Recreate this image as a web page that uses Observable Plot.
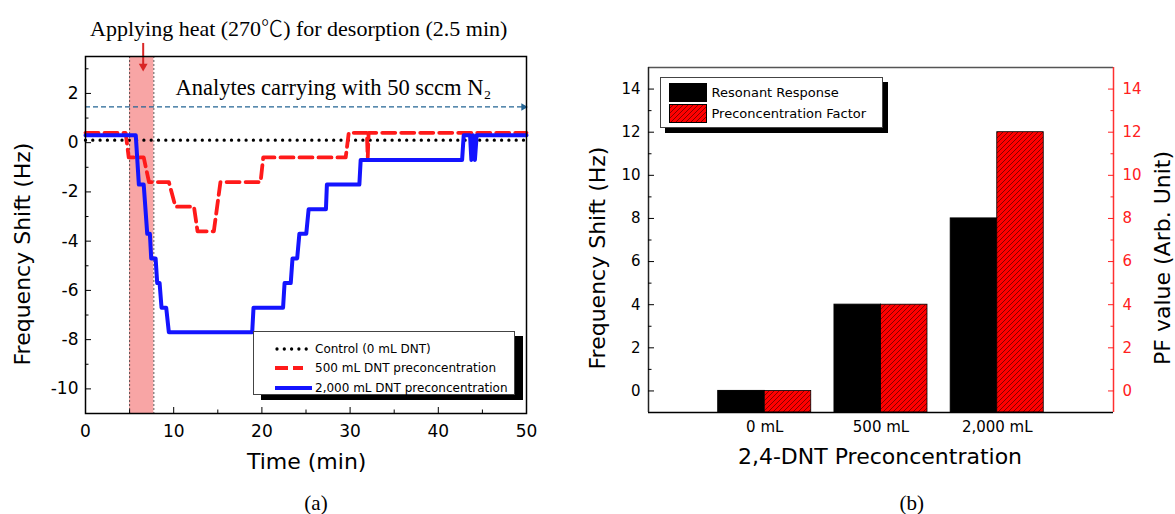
<!DOCTYPE html>
<html><head><meta charset="utf-8">
<script src="https://cdn.jsdelivr.net/npm/d3@7"></script>
<script src="https://cdn.jsdelivr.net/npm/@observablehq/plot@0.6"></script>
<style>
body{margin:0;background:#fff;}
#wrap{position:relative;width:1175px;height:514px;overflow:hidden;font-family:"DejaVu Sans",sans-serif;color:#000;}
#wrap > div.plot{position:absolute;top:0;}
.lbl{position:absolute;white-space:nowrap;transform:translate(-50%,-50%);line-height:1;}
.rot{transform:translate(-50%,-50%) rotate(-90deg);}
.serif{font-family:"Liberation Serif","Times New Roman",serif;}
.cjk{font-family:"Noto Sans CJK KR","Noto Sans CJK JP",sans-serif;font-weight:300;}
.legend{position:absolute;background:#fff;border:1px solid #444;box-sizing:border-box;}
.legend .row{position:absolute;white-space:nowrap;line-height:1;}
</style></head><body><div id="wrap"></div>
<script>
// ---------- Panel (a) data ----------
const controlTime  = [0, 50];
const controlShift = [0.1, 0.1];
const dnt500Time  = [0, 4.55, 4.9, 6.6, 7.2, 9.45, 10.2, 12.3, 12.7, 14.55, 15.3, 19.85, 20.15, 29.5, 29.85, 31.9, 32.0, 32.1, 50];
const dnt500Shift = [0.4, 0.4, -0.6, -0.6, -1.6, -1.6, -2.6, -2.6, -3.6, -3.6, -1.6, -1.6, -0.6, -0.6, 0.4, 0.4, -0.6, 0.4, 0.4];
const dnt2000Time  = [0, 5.7, 6.05, 6.6, 7.0, 7.3, 7.45, 7.95, 8.13, 8.4, 8.62, 9.15, 9.45, 18.9, 19.05, 22.4, 22.57, 23.27, 23.47, 24.0, 24.25, 25.03, 25.3, 27.26, 27.37, 31.05, 31.2, 42.7, 42.88, 43.6, 43.75, 43.95, 44.15, 44.35, 50];
const dnt2000Shift = [0.3, 0.3, -1.7, -1.7, -3.7, -3.7, -4.7, -4.7, -5.7, -5.7, -6.7, -6.7, -7.7, -7.7, -6.7, -6.7, -5.7, -5.7, -4.7, -4.7, -3.7, -3.7, -2.7, -2.7, -1.7, -1.7, -0.7, -0.7, 0.3, 0.3, -0.7, 0.3, -0.7, 0.3, 0.3];
const heatStart = 5, heatEnd = 7.75, heatArrowTime = 6.54;
const carrierLevel = 1.45;
const xTicksA = [0, 10, 20, 30, 40, 50];
const yTicksA = [-10, -8, -6, -4, -2, 0, 2];
const seriesNames = ["Control (0 mL DNT)", "500 mL DNT preconcentration", "2,000 mL DNT preconcentration"];

// ---------- Panel (b) data ----------
const categories = ["0 mL", "500 mL", "2,000 mL"];
const resonantResponse = [0, 4, 8];
const preconcentrationFactor = [0, 4, 12];
const yTicksB = [0, 2, 4, 6, 8, 10, 12, 14];
const legendNamesB = ["Resonant Response", "Preconcentration Factor"];

const FONT = "DejaVu Sans";
const SERIF = "Liberation Serif";
const hyphen = d => String(d);
const pts = (t, v) => t.map((x, i) => ({t: x, v: v[i]}));
const wrap = document.getElementById("wrap");

// ---------- Panel (a) ----------
const plotA = Plot.plot({
  width: 560, height: 514,
  marginLeft: 85, marginRight: 34, marginTop: 56, marginBottom: 101,
  style: {fontFamily: FONT, fontSize: "17px", color: "#000", background: "transparent", overflow: "visible"},
  x: {domain: [0, 50]},
  y: {domain: [-11, 3.5]},
  marks: [
    Plot.rect([{a: heatStart, b: heatEnd}], {x1: "a", x2: "b", fill: "#f8a5a5"}),
    Plot.ruleX([heatStart, heatEnd], {stroke: "#333", strokeWidth: 0.8, strokeDasharray: "2,2"}),
    Plot.ruleY([carrierLevel], {stroke: "#236494", strokeWidth: 1.3, strokeDasharray: "5,3"}),
    Plot.dot([{t: 50, v: carrierLevel}], {x: "t", y: "v", symbol: "triangle2", rotate: 90, r: 3.6, fill: "#236494", stroke: null, dx: -3}),
    Plot.link([{t: heatArrowTime, a: 4.05, b: 3.1}], {x1: "t", x2: "t", y1: "a", y2: "b", stroke: "#d92626", strokeWidth: 2}),
    Plot.dot([{t: heatArrowTime, v: 3.1}], {x: "t", y: "v", symbol: "triangle2", rotate: 180, r: 4.2, fill: "#d92626", stroke: null}),
    Plot.text([{t: 28.1, v: 2.23, s: "Analytes carrying with 50 sccm N\u2082"}], {x: "t", y: "v", text: "s", fontFamily: SERIF, fontSize: 22.5, fill: "#000"}),
    Plot.line(pts(controlTime, controlShift), {x: "t", y: "v", stroke: "#000", strokeWidth: 3.3, strokeDasharray: "0,7.3", strokeLinecap: "round"}),
    Plot.line(pts(dnt500Time, dnt500Shift), {x: "t", y: "v", stroke: "#ff1a1a", strokeWidth: 3.8, strokeDasharray: "13,6"}),
    Plot.line(pts(dnt2000Time, dnt2000Shift), {x: "t", y: "v", stroke: "#1414ff", strokeWidth: 4}),
    Plot.frame({stroke: "#000", strokeWidth: 1.5}),
    Plot.axisX({ticks: xTicksA, tickSize: -6, tickPadding: 17, label: null, fontSize: 17, tickFormat: hyphen}),
    Plot.axisX({ticks: [5, 15, 25, 35, 45], tickSize: -3.5, tickFormat: () => "", label: null}),
    Plot.axisY({ticks: yTicksA, tickSize: -6, tickPadding: 13, label: null, fontSize: 17, tickFormat: hyphen}),
    Plot.axisY({ticks: [-9, -7, -5, -3, -1, 1, 3], tickSize: -3.5, tickFormat: () => "", label: null})
  ]
});
const divA = document.createElement("div"); divA.className = "plot"; divA.style.left = "0px";
divA.appendChild(plotA); wrap.appendChild(divA);

// ---------- Panel (b) ----------
const barData = categories.map((c, i) => ({cat: c, i: i + 1, rr: resonantResponse[i], pf: preconcentrationFactor[i]}));
const plotB = Plot.plot({
  width: 615, height: 514,
  marginLeft: 88, marginRight: 62, marginTop: 67, marginBottom: 102,
  style: {fontFamily: FONT, fontSize: "15px", color: "#000", background: "transparent", overflow: "visible"},
  x: {domain: [0, categories.length + 1]},
  y: {domain: [-1, 15]},
  marks: [
    Plot.rect(barData, {x1: d => d.i - 0.4, x2: "i", y1: -1, y2: "rr", fill: "#000", stroke: "#000", strokeWidth: 1}),
    Plot.rect(barData, {x1: "i", x2: d => d.i + 0.4, y1: -1, y2: "pf", fill: "url(#hatchRed)", stroke: "#000", strokeWidth: 0.8}),
    Plot.ruleY([15], {stroke: "#555", strokeWidth: 1.5}),
    Plot.ruleY([-1], {stroke: "#000", strokeWidth: 1.5}),
    Plot.ruleX([0], {stroke: "#222", strokeWidth: 1.5}),
    Plot.ruleX([categories.length + 1], {stroke: "#ff3030", strokeWidth: 1.5}),
    Plot.axisX({ticks: [1, 2, 3], tickFormat: i => categories[i - 1], tickSize: 0, tickPadding: 9, label: null, fontSize: 15}),
    Plot.axisY({anchor: "left", ticks: yTicksB, tickSize: -6, tickPadding: 14, label: null, fontSize: 15, tickFormat: hyphen}),
    Plot.axisY({anchor: "left", ticks: [1, 3, 5, 7, 9, 11, 13], tickSize: -3.5, tickFormat: () => "", label: null}),
    Plot.axisY({anchor: "right", ticks: yTicksB, tickSize: -6, tickPadding: 15, label: null, fontSize: 15, color: "#ff2020", tickFormat: hyphen}),
    Plot.axisY({anchor: "right", ticks: [1, 3, 5, 7, 9, 11, 13], tickSize: -3.5, tickFormat: () => "", label: null, color: "#ff2020"})
  ]
});
// hatch pattern
const defs = d3.select(plotB).insert("defs", ":first-child");
const pat = defs.append("pattern").attr("id", "hatchRed").attr("patternUnits", "userSpaceOnUse").attr("width", 5).attr("height", 5);
pat.append("rect").attr("width", 5).attr("height", 5).attr("fill", "#ff0000");
pat.append("path").attr("d", "M-1,1 l2,-2 M0,5 l5,-5 M4,6 l2,-2").attr("stroke", "#300").attr("stroke-width", 0.6);
const divB = document.createElement("div"); divB.className = "plot"; divB.style.left = "560px";
divB.appendChild(plotB); wrap.appendChild(divB);

// ---------- Text ----------
function label(text, x, y, size, opts = {}) {
  const d = document.createElement("div");
  d.className = "lbl" + (opts.rot ? " rot" : "") + (opts.serif ? " serif" : "");
  d.style.left = x + "px"; d.style.top = y + "px"; d.style.fontSize = size + "px";
  if (opts.html) d.innerHTML = text; else d.textContent = text;
  wrap.appendChild(d); return d;
}
label('Applying heat (270<span class="cjk">\u2103</span>) for desorption (2.5 min)', 298.7, 26.5, 22, {serif: true, html: true});
label("Frequency Shift (Hz)", 23, 254, 22, {rot: true});
label("Time (min)", 306.7, 461.7, 22);
label("(a)", 316, 503, 21, {serif: true});
label("Frequency Shift (Hz)", 597.5, 258, 22, {rot: true});
label("PF value (Arb. Unit)", 1163, 258, 22, {rot: true});
label("2,4-DNT Preconcentration", 880, 457.3, 22);
label("(b)", 911.7, 503, 21, {serif: true});

// ---------- Legend (a) ----------
const legA = document.createElement("div");
legA.className = "legend";
Object.assign(legA.style, {left: "253px", top: "331px", width: "262px", height: "64px", boxShadow: "8px 5px 0 #000"});
const samplesA = [
  '<line x1="2" y1="5" x2="33" y2="5" stroke="#000" stroke-width="3.3" stroke-dasharray="0,7.3" stroke-linecap="round"/>',
  '<line x1="0" y1="5" x2="28" y2="5" stroke="#ff1a1a" stroke-width="3.8" stroke-dasharray="13,5"/>',
  '<line x1="0" y1="5" x2="37" y2="5" stroke="#1414ff" stroke-width="4"/>'
];
seriesNames.forEach((n, i) => {
  const r = document.createElement("div");
  r.className = "row";
  r.style.left = "21px"; r.style.top = (8 + i * 19.6) + "px";
  r.innerHTML = `<svg width="38" height="10" style="vertical-align:middle;overflow:visible">${samplesA[i]}</svg><span style="font-size:12px;vertical-align:middle;margin-left:2px">${n}</span>`;
  legA.appendChild(r);
});
wrap.appendChild(legA);

// ---------- Legend (b) ----------
const legB = document.createElement("div");
legB.className = "legend";
Object.assign(legB.style, {left: "660px", top: "77px", width: "223px", height: "51px", boxShadow: "5px 5px 0 #000"});
const swB = [
  '<rect x="0.5" y="0.5" width="37" height="18" fill="#000" stroke="#000"/>',
  '<rect x="0.5" y="0.5" width="37" height="18" fill="url(#hatchRed)" stroke="#000"/>'
];
legendNamesB.forEach((n, i) => {
  const r = document.createElement("div");
  r.className = "row";
  r.style.left = "7.5px"; r.style.top = (5 + i * 21) + "px";
  r.innerHTML = `<svg width="38" height="19" style="vertical-align:middle">${swB[i]}</svg><span style="font-size:13px;vertical-align:middle;margin-left:5px">${n}</span>`;
  legB.appendChild(r);
});
wrap.appendChild(legB);
</script>
</body></html>
